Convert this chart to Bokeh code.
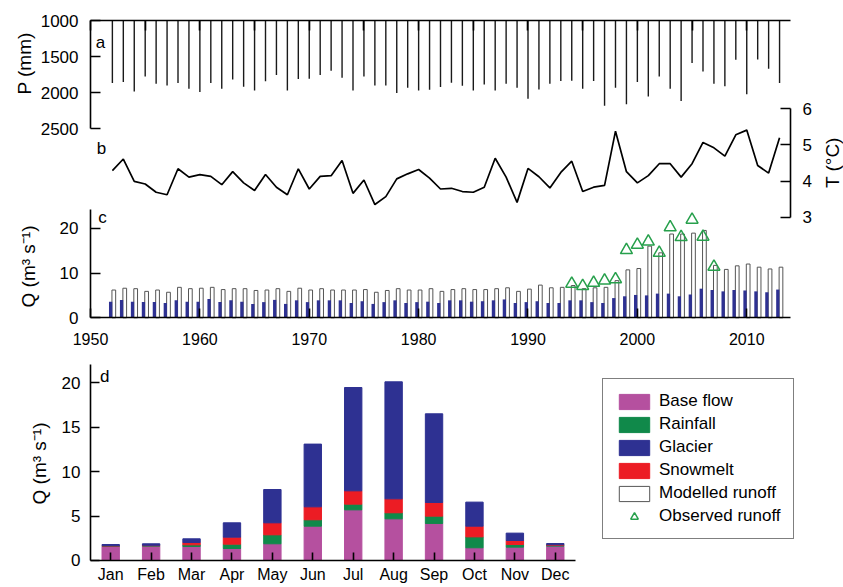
import math

from bokeh.embed import file_html
from bokeh.models import (ColumnDataSource, FixedTicker, Label, Legend, LegendItem,
                          LinearAxis, Range1d, SingleIntervalTicker)
from bokeh.plotting import figure
from bokeh.resources import INLINE
from bokeh.transform import dodge

FONT = "Liberation Sans"

# ---------------- annual series (panels a-c) ----------------
years = list(range(1952, 2014))

precip_mm = [
    1866, 1853, 1982, 1774, 1876, 1899, 1866, 1945, 1991, 1866,
    1945, 1816, 1917, 1968, 1843, 1756, 1968, 1811, 1806, 1756,
    1696, 1793, 1968, 1774, 1899, 1899, 2005, 1931, 1970, 1959,
    1922, 1862, 1903, 1968, 1885, 1968, 1876, 1931, 2083, 1954,
    1876, 1839, 1834, 1945, 1839, 2180, 1931, 2161, 1853, 2051,
    1774, 1945, 2115, 1590, 1705, 1876, 1912, 1544, 2023, 1539,
    1668, 1866,
]

temp_c = [
    4.29, 4.61, 3.99, 3.92, 3.69, 3.62, 4.34, 4.11, 4.18, 4.13,
    3.90, 4.26, 3.95, 3.74, 4.18, 3.83, 3.62, 4.34, 3.78, 4.13,
    4.15, 4.57, 3.66, 4.03, 3.35, 3.57, 4.06, 4.20, 4.32, 4.08,
    3.78, 3.80, 3.71, 3.69, 3.83, 4.63, 4.11, 3.41, 4.35, 4.12,
    3.81, 4.24, 4.55, 3.71, 3.83, 3.88, 5.38, 4.26, 3.95, 4.15,
    4.48, 4.48, 4.11, 4.48, 5.07, 4.92, 4.69, 5.28, 5.41, 4.43,
    4.22, 5.20,
]

q_modelled = [
    6.2, 6.6, 6.5, 5.9, 6.2, 5.7, 6.8, 6.5, 6.6, 6.8,
    6.3, 6.5, 6.5, 6.1, 6.2, 6.5, 5.9, 6.6, 6.2, 6.5,
    6.2, 6.2, 6.2, 6.3, 5.7, 6.1, 6.5, 6.2, 6.2, 6.5,
    5.9, 6.3, 6.5, 6.3, 6.3, 6.5, 6.7, 5.9, 6.4, 7.3,
    6.7, 6.8, 7.2, 6.5, 6.7, 6.8, 8.3, 10.7, 11.0, 16.0,
    14.5, 18.7, 18.7, 18.9, 19.5, 11.7, 10.8, 11.6, 12.0, 11.3,
    10.9, 11.3,
]

q_glacier = [
    3.6, 4.0, 3.6, 3.5, 3.5, 3.3, 3.9, 3.6, 3.6, 4.2,
    3.5, 3.9, 3.6, 3.1, 3.5, 4.0, 3.1, 3.9, 3.5, 3.9,
    3.9, 3.9, 3.3, 3.7, 3.1, 3.5, 3.9, 3.3, 3.5, 3.6,
    3.3, 3.9, 3.9, 3.6, 3.7, 3.9, 4.1, 3.3, 3.5, 3.7,
    3.3, 3.3, 3.9, 3.9, 3.5, 3.3, 4.4, 4.8, 5.1, 5.0,
    5.4, 5.4, 4.8, 5.2, 6.5, 6.2, 5.9, 6.2, 6.1, 5.9,
    5.7, 6.3,
]

obs_years = list(range(1994, 2008))
q_observed = [7.6, 7.1, 7.8, 8.3, 8.6, 15.1, 16.3, 17.0, 14.5, 20.2, 18.0, 21.9, 18.1, 11.4]

# ---------------- monthly contributions (panel d) ----------------
months = ["Jan", "Feb", "Mar", "Apr", "May", "Jun", "Jul", "Aug", "Sep", "Oct", "Nov", "Dec"]
base_flow = [1.60, 1.62, 1.58, 1.35, 1.88, 3.86, 5.70, 4.69, 4.17, 1.43, 1.50, 1.62]
rainfall = [0.04, 0.05, 0.18, 0.49, 1.01, 0.72, 0.64, 0.68, 0.82, 1.23, 0.30, 0.10]
snowmelt = [0.03, 0.04, 0.27, 0.79, 1.35, 1.46, 1.50, 1.57, 1.54, 1.20, 0.45, 0.05]
glacier_melt = [0.13, 0.17, 0.41, 1.61, 3.75, 7.06, 11.63, 13.17, 9.98, 2.71, 0.83, 0.14]

# axis ticks
p_ticks = [1000, 1500, 2000, 2500]
t_ticks = [3, 4, 5, 6]
qc_ticks = [0, 10, 20]
qd_ticks = [0, 5, 10, 15, 20]

C_BASE = "#b5509f"
C_RAIN = "#10894a"
C_GLAC = "#2e3192"
C_SNOW = "#ec1c24"
C_OBS = "#27a04c"

# The plotting frame covers the whole canvas; every panel gets its own
# vertical range so that the panels sit at their place on the page, and
# all axes are pinned inside the frame with fixed_location.
YEAR_START, YEAR_END = 1950, 2014
p = figure(
    width=843, height=587, output_backend="svg", toolbar_location=None,
    x_range=Range1d(1941.771, 2018.846), y_range=Range1d(-60.201, 70.826),
    x_axis_location=None, y_axis_location=None,
    min_border=0, min_border_left=0, min_border_right=0,
    min_border_top=0, min_border_bottom=0,
)
p.outline_line_color = None
p.grid.visible = False
p.extra_y_ranges = {
    "p": Range1d(8853.2, 722.99),    # precipitation, drawn downwards
    "t": Range1d(-7.249, 8.9975),    # temperature
    "qd": Range1d(-3.039, 63.028),   # monthly discharge
}
p.extra_x_ranges = {"mon": Range1d(-1.7268, 19.131)}

src = ColumnDataSource(dict(year=years, precip=precip_mm, temp=temp_c,
                            q_mod=q_modelled, q_gla=q_glacier))

# (a) precipitation hanging from the top line
p.segment(x0="year", y0=p_ticks[0], x1="year", y1="precip", source=src,
          y_range_name="p", line_color="#1a1a1a", line_width=1.4)

# (b) mean annual temperature
p.line("year", "temp", source=src, y_range_name="t",
       line_color="black", line_width=1.7)

# (c) modelled runoff, glacier contribution and observations
mod = p.vbar(x=dodge("year", 0.13), top="q_mod", bottom=0, width=0.34, source=src,
             fill_color="white", line_color="#555555", line_width=1)
gla = p.vbar(x=dodge("year", -0.16), top="q_gla", bottom=0, width=0.3, source=src,
             fill_color=C_GLAC, line_color=None)
obs = p.scatter(obs_years, q_observed, marker="triangle", size=12,
                fill_color=None, line_color=C_OBS, line_width=1.5)

# (d) stacked monthly contributions
month_x = [i + 1 for i in range(len(months))]
src_d = ColumnDataSource(dict(mx=month_x, base=base_flow, rain=rainfall,
                              snow=snowmelt, glac=glacier_melt))
stack = p.vbar_stack(["base", "rain", "snow", "glac"], x="mx", width=0.43, source=src_d,
                     color=[C_BASE, C_RAIN, C_SNOW, C_GLAC],
                     x_range_name="mon", y_range_name="qd")


def style_axis(ax, size="17px", tick_in=10, standoff=12):
    ax.axis_line_width = 1.6
    ax.axis_line_color = "black"
    ax.major_tick_in = tick_in
    ax.major_tick_out = 0
    ax.major_tick_line_width = 1.6
    ax.major_tick_line_color = "black"
    ax.minor_tick_line_color = None
    ax.major_label_text_font = FONT
    ax.major_label_text_font_size = size
    ax.major_label_text_color = "black"
    ax.major_label_standoff = standoff
    return ax


# panel (a) axes
ax_p = style_axis(LinearAxis(y_range_name="p", fixed_location=YEAR_START,
                             bounds=(p_ticks[0], p_ticks[-1]),
                             ticker=FixedTicker(ticks=p_ticks)))
p.add_layout(ax_p, "left")
ax_top = style_axis(LinearAxis(y_range_name="p", fixed_location=p_ticks[0],
                               bounds=(YEAR_START, YEAR_END),
                               ticker=SingleIntervalTicker(interval=5)))
ax_top.major_label_text_color = None
p.add_layout(ax_top, "above")

# panel (b) axis
ax_t = style_axis(LinearAxis(y_range_name="t", fixed_location=YEAR_END,
                             bounds=(t_ticks[0], t_ticks[-1]),
                             ticker=FixedTicker(ticks=t_ticks)))
p.add_layout(ax_t, "right")

# panel (c) axes
ax_qc = style_axis(LinearAxis(fixed_location=YEAR_START, bounds=(0, 24.1),
                              ticker=FixedTicker(ticks=qc_ticks)))
p.add_layout(ax_qc, "left")
ax_year = style_axis(LinearAxis(fixed_location=0, bounds=(YEAR_START, YEAR_END),
                                ticker=SingleIntervalTicker(interval=10)),
                     size="16px", tick_in=9, standoff=11)
p.add_layout(ax_year, "below")

# panel (d) axes
ax_qd = style_axis(LinearAxis(y_range_name="qd", fixed_location=YEAR_START,
                              bounds=(0, 22.06), ticker=FixedTicker(ticks=qd_ticks)),
                   tick_in=9, standoff=10)
p.add_layout(ax_qd, "left")
ax_mon = style_axis(LinearAxis(x_range_name="mon", y_range_name="qd", fixed_location=0,
                               bounds=(0.5, len(months) + 0.5),
                               ticker=FixedTicker(ticks=month_x),
                               major_label_overrides={x: m for x, m in zip(month_x, months)}),
                    size="16px", tick_in=8, standoff=6)
p.add_layout(ax_mon, "below")


def add_text(text, x, y, y_range_name="default", angle=0.0, size="17px"):
    p.add_layout(Label(x=x, y=y, y_range_name=y_range_name, text=text, angle=angle,
                       text_align="center", text_baseline="middle",
                       text_font=FONT, text_font_size=size, text_color="black"))


# axis titles
add_text("P (mm)", 1943.96, 1595, "p", math.pi / 2, "19px")
add_text("T (°C)", 2017.8, 4.51, "t", math.pi / 2, "19px")
add_text("Q (m³ s⁻¹)", 1944.3, 11.45, "default", math.pi / 2, "19px")
add_text("Q (m³ s⁻¹)", 1945.3, 10.92, "qd", math.pi / 2, "19px")

# panel letters
add_text("a", 1950.91, 1305, "p")
add_text("b", 1951.0, 4.90, "t")
add_text("c", 1951.1, 22.4, "default")
add_text("d", 1951.3, 20.7, "qd")

legend = Legend(
    items=[
        LegendItem(label="Base flow", renderers=[stack[0]]),
        LegendItem(label="Rainfall", renderers=[stack[1]]),
        LegendItem(label="Glacier", renderers=[stack[3]]),
        LegendItem(label="Snowmelt", renderers=[stack[2]]),
        LegendItem(label="Modelled runoff", renderers=[mod]),
        LegendItem(label="Observed runoff", renderers=[obs]),
    ],
    location=(602, 48),
    border_line_color="black", border_line_width=1.5,
    background_fill_color="white", background_fill_alpha=1.0,
    padding=12, spacing=3, margin=0,
    glyph_width=38, glyph_height=19, label_height=19, label_standoff=6,
    label_text_font=FONT, label_text_font_size="17px", label_text_color="black",
)
p.add_layout(legend, "center")

open("out.html", "w").write(file_html(p, INLINE))
